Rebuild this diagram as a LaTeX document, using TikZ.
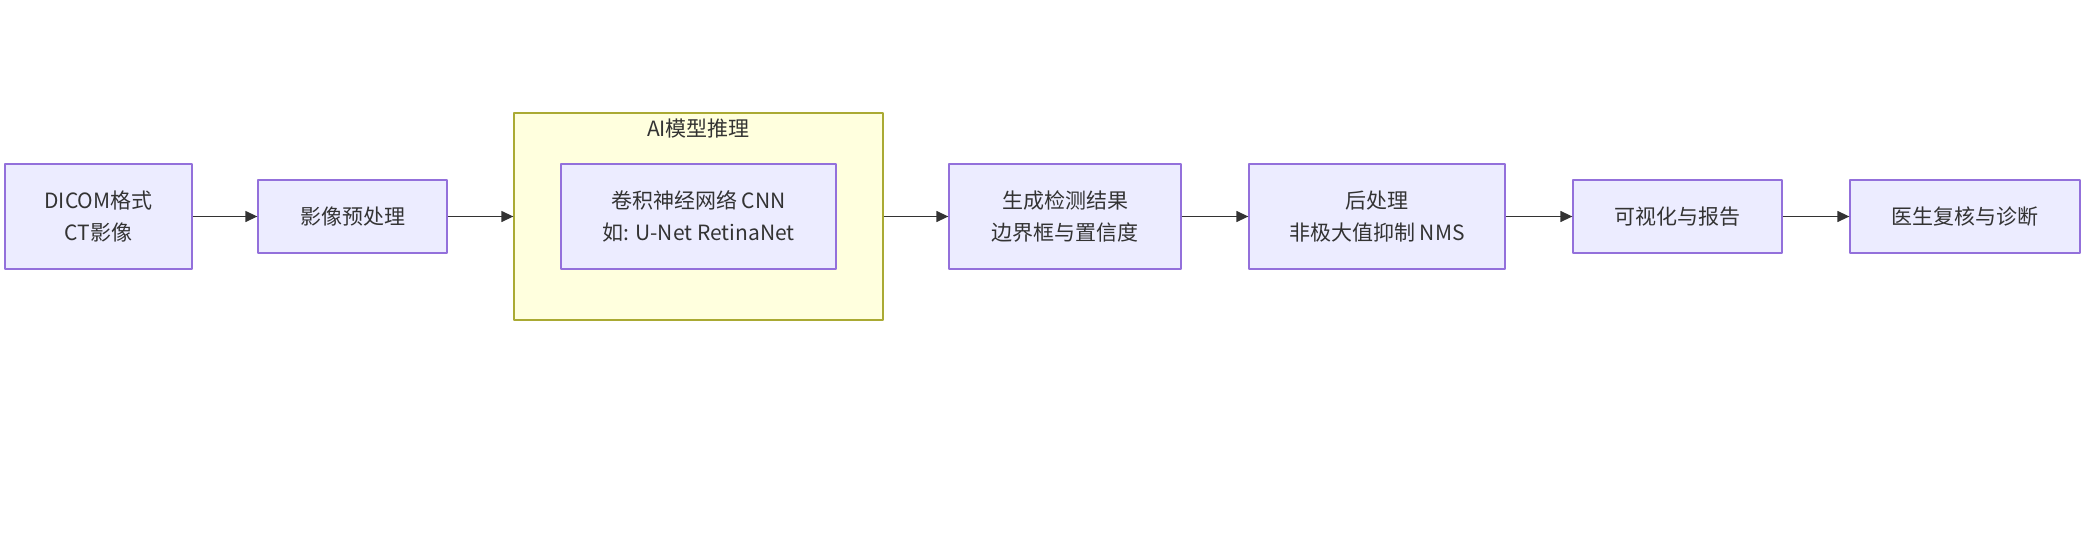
\documentclass[tikz,border=0pt]{standalone}
\usepackage{fontspec}
\setmainfont{Noto Sans CJK SC}
\usetikzlibrary{arrows.meta}
\definecolor{boxfill}{HTML}{ECECFF}
\definecolor{boxline}{HTML}{9370DB}
\definecolor{grpfill}{HTML}{FFFFDE}
\definecolor{grpline}{HTML}{AAAA33}
\definecolor{edgecol}{HTML}{333333}
\tikzset{
  stepnode/.style={draw=boxline, fill=boxfill, line width=1.3pt, align=center,
    inner sep=0pt, minimum height=105pt, text=edgecol},
  flat/.style={minimum height=73pt},
  grp/.style={draw=grpline, fill=grpfill, line width=1.3pt, inner sep=0pt},
  flow/.style={draw=edgecol, line width=1.3pt, -{Triangle[length=12pt,width=11pt]}}
}
\begin{document}
\begin{tikzpicture}[x=1pt, y=-1pt, font=\fontsize{21}{32}\selectfont, line join=round]
				\useasboundingbox (0,0) rectangle (2088,538);
				% group box
				\node[grp, minimum width=369pt, minimum height=207pt] (ai) at (698.5,216.5) {};
				\node[text=edgecol, anchor=center] (aititle) at (698.5,129) {AI模型推理};
				% steps
				\node[stepnode, minimum width=187pt] (dicom) at (98.5,216.5) {DICOM格式\\CT影像};
				\node[stepnode, flat, minimum width=189pt] (pre) at (352.5,216.5) {影像预处理};
				\node[stepnode, minimum width=275pt] (cnn) at (698.5,216.5) {卷积神经网络 CNN\\如: U-Net RetinaNet};
				\node[stepnode, minimum width=232pt] (gen) at (1065,216.5) {生成检测结果\\边界框与置信度};
				\node[stepnode, minimum width=256pt] (post) at (1377,216.5) {后处理\\非极大值抑制 NMS};
				\node[stepnode, flat, minimum width=209pt] (vis) at (1677.5,216.5) {可视化与报告};
				\node[stepnode, flat, minimum width=230pt] (doc) at (1965,216.5) {医生复核与诊断};
				% edges
				\draw[flow] (dicom) -- (pre);
				\draw[flow] (pre) -- (ai);
				\draw[flow] (ai) -- (gen);
				\draw[flow] (gen) -- (post);
				\draw[flow] (post) -- (vis);
				\draw[flow] (vis) -- (doc);
\end{tikzpicture}
\end{document}
